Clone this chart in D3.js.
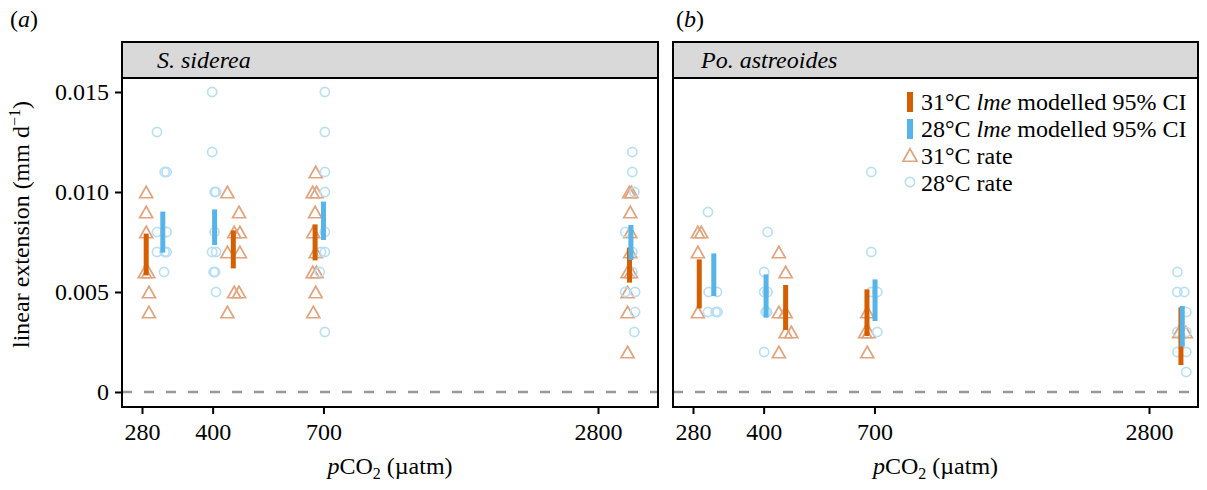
<!DOCTYPE html>
<html>
<head>
<meta charset="utf-8">
<script src="https://cdn.jsdelivr.net/npm/d3@7"></script>
<style>
  body { margin: 0; background: #fff; }
  svg { display: block; font-family: "Liberation Serif", "Times New Roman", serif; }
</style>
</head>
<body>
<div id="chart"></div>
<script>
const width = 1207,
    height = 490;

// pCO2 tick labels and y ticks
const pco2Ticks = [280, 400, 700, 2800];
const yTicks = [0, 0.005, 0.010, 0.015];

// (a) S. siderea : [measured pCO2, rate]
const sidereaTri31 = [
  [286, 0.010], [286, 0.009], [286, 0.008], [284, 0.006], [289, 0.006], [290, 0.005], [290, 0.004],
  [431, 0.010], [457, 0.009], [446, 0.008], [459, 0.008], [431, 0.007], [459, 0.007], [446, 0.005], [457, 0.005], [431, 0.004],
  [673, 0.011], [663, 0.010], [676, 0.010], [671, 0.009], [665, 0.008], [673, 0.007], [663, 0.006], [676, 0.006], [673, 0.005], [665, 0.004],
  [3280, 0.010], [3315, 0.010], [3296, 0.009], [3296, 0.008], [3296, 0.007], [3251, 0.006], [3308, 0.006], [3251, 0.005], [3251, 0.004], [3251, 0.002]
];
const sidereaCirc28 = [
  [302, 0.013], [314, 0.011], [317, 0.011], [302, 0.008], [317, 0.008], [302, 0.007], [314, 0.007], [317, 0.007], [313, 0.006],
  [399, 0.015], [399, 0.012], [404, 0.010], [407, 0.010], [404, 0.008], [399, 0.007], [407, 0.007], [402, 0.006], [405, 0.006], [407, 0.005],
  [705, 0.015], [705, 0.013], [705, 0.011], [705, 0.010], [705, 0.008], [691, 0.007], [705, 0.007], [687, 0.006], [705, 0.003],
  [3330, 0.012], [3330, 0.011], [3365, 0.010], [3213, 0.008], [3330, 0.007], [3330, 0.006], [3213, 0.005], [3376, 0.005], [3376, 0.004], [3365, 0.003]
];
// [pCO2, lower, upper]
const sidereaCI31 = [[286, 0.00583, 0.00792], [444, 0.00618, 0.00808], [671, 0.00658, 0.00838], [3283, 0.00547, 0.00722]];
const sidereaCI28 = [[311, 0.00697, 0.00902], [404, 0.00735, 0.00913], [700, 0.00760, 0.00952], [3306, 0.00660, 0.00835]];

// (b) Po. astreoides
const astreoTri31 = [
  [287, 0.008], [292, 0.008], [287, 0.007], [287, 0.004],
  [432, 0.007], [447, 0.006], [432, 0.004], [447, 0.004], [447, 0.003], [460, 0.003], [432, 0.002],
  [675, 0.004], [668, 0.003], [680, 0.003], [675, 0.002],
  [3260, 0.003], [3370, 0.003]
];
const astreoCirc28 = [
  [302, 0.009], [303, 0.005], [316, 0.005], [302, 0.004], [314, 0.004], [317, 0.004],
  [408, 0.008], [401, 0.006], [401, 0.005], [408, 0.005], [404, 0.004], [407, 0.004], [401, 0.002],
  [689, 0.011], [689, 0.007], [689, 0.005], [710, 0.005], [710, 0.003],
  [3231, 0.006], [3231, 0.005], [3346, 0.005], [3380, 0.004], [3231, 0.003], [3380, 0.003], [3231, 0.002], [3380, 0.002], [3380, 0.001]
];
const astreoCI31 = [[289, 0.00418, 0.00663], [447, 0.00310, 0.00535], [674, 0.00280, 0.00513], [3290, 0.00135, 0.00423]];
const astreoCI28 = [[311, 0.00480, 0.00693], [405, 0.00372, 0.00588], [702, 0.00355, 0.00563], [3312, 0.00227, 0.00430]];

const legendLabels = ['31°C', '28°C'];

const orange = '#D55E00', blue = '#56B4E9';
const triColor = '#E0A47F', circColor = '#B8DFF2';
const fs = 24;

const panels = [
  { tag: 'a', name: 'S. siderea', left: 122, right: 658, tri: sidereaTri31, circ: sidereaCirc28, ci31: sidereaCI31, ci28: sidereaCI28, yAxis: true },
  { tag: 'b', name: 'Po. astreoides', left: 673, right: 1198, tri: astreoTri31, circ: astreoCirc28, ci31: astreoCI31, ci28: astreoCI28, yAxis: false }
];

const stripTop = 42, plotTop = 78, plotBottom = 407;

const svg = d3.select('#chart')
    .append('svg')
    .attr('width', width)
    .attr('height', height);

// y比例尺
const y = d3.scaleLinear()
    .domain([0, 0.015])
    .range([392, 92]);

// triangle path, bbox centred
function triPath(w, h) {
  return 'M0,' + (-h / 2) + 'L' + (w / 2) + ',' + (h / 2) + 'L' + (-w / 2) + ',' + (h / 2) + 'Z';
}

panels.forEach(function(p) {
  const g = svg.append('g');

  // log x scale, ticks spaced the same in both panels
  const x = d3.scaleLog()
      .domain([280, 2800])
      .range([p.left + 20, p.left + 476]);

  // strip
  g.append('rect')
      .attr('x', p.left).attr('y', stripTop)
      .attr('width', p.right - p.left).attr('height', plotTop - stripTop)
      .attr('fill', '#D9D9D9')
      .attr('stroke', '#000').attr('stroke-width', 2);
  g.append('text')
      .attr('x', p.left + (p.tag === 'a' ? 35 : 28))
      .attr('y', plotTop - 10)
      .attr('font-size', fs)
      .attr('font-style', 'italic')
      .text(p.name);

  // panel label
  const lab = g.append('text')
      .attr('x', p.tag === 'a' ? 10 : p.left + 3)
      .attr('y', 27)
      .attr('font-size', fs);
  lab.append('tspan').text('(');
  lab.append('tspan').attr('font-style', 'italic').text(p.tag);
  lab.append('tspan').text(')');

  // zero line
  g.append('line')
      .attr('x1', p.left).attr('x2', p.right)
      .attr('y1', y(0)).attr('y2', y(0))
      .attr('stroke', '#999').attr('stroke-width', 2.5)
      .attr('stroke-dasharray', '10,12');

  // points
  g.append('g').selectAll('path')
      .data(p.tri)
      .enter()
      .append('path')
      .attr('d', triPath(13, 11.5))
      .attr('transform', function(d) { return 'translate(' + x(d[0]) + ',' + y(d[1]) + ')'; })
      .attr('fill', 'none')
      .attr('stroke', triColor)
      .attr('stroke-width', 1.7);

  g.append('g').selectAll('circle')
      .data(p.circ)
      .enter()
      .append('circle')
      .attr('cx', function(d) { return x(d[0]); })
      .attr('cy', function(d) { return y(d[1]); })
      .attr('r', 4.6)
      .attr('fill', 'none')
      .attr('stroke', circColor)
      .attr('stroke-width', 1.7);

  // CI bars
  [[p.ci31, orange], [p.ci28, blue]].forEach(function(s) {
    g.append('g').selectAll('rect')
        .data(s[0])
        .enter()
        .append('rect')
        .attr('x', function(d) { return x(d[0]) - 2.5; })
        .attr('y', function(d) { return y(d[2]); })
        .attr('width', 5)
        .attr('height', function(d) { return y(d[1]) - y(d[2]); })
        .attr('fill', s[1]);
  });

  // frame
  g.append('rect')
      .attr('x', p.left).attr('y', plotTop)
      .attr('width', p.right - p.left).attr('height', plotBottom - plotTop)
      .attr('fill', 'none')
      .attr('stroke', '#000').attr('stroke-width', 2);

  // x axis
  const xAxis = g.append('g')
      .attr('transform', 'translate(0,' + plotBottom + ')')
      .call(d3.axisBottom(x).tickValues(pco2Ticks).tickFormat(d3.format('d')).tickSize(7).tickPadding(9));
  xAxis.select('.domain').remove();
  xAxis.selectAll('line').attr('stroke', '#000').attr('stroke-width', 2);
  xAxis.selectAll('text').attr('font-size', fs).attr('font-family', 'Liberation Serif, serif').attr('fill', '#000');

  // x title
  const xt = g.append('text')
      .attr('x', (p.left + p.right) / 2)
      .attr('y', 474)
      .attr('text-anchor', 'middle')
      .attr('font-size', fs);
  xt.append('tspan').attr('font-style', 'italic').text('p');
  xt.append('tspan').text('CO');
  xt.append('tspan').attr('font-size', 16).attr('dy', 5).text('2');
  xt.append('tspan').attr('dy', -5).text(' (µatm)');

  if (p.yAxis) {
    const yAxis = g.append('g')
        .attr('transform', 'translate(' + p.left + ',0)')
        .call(d3.axisLeft(y).tickValues(yTicks)
          .tickFormat(function(d) { return d === 0 ? '0' : d3.format('.3f')(d); })
          .tickSize(7).tickPadding(6));
    yAxis.select('.domain').remove();
    yAxis.selectAll('line').attr('stroke', '#000').attr('stroke-width', 2);
    yAxis.selectAll('text').attr('font-size', fs).attr('font-family', 'Liberation Serif, serif').attr('fill', '#000');

    // y title, centred over strip + panel
    const yt = g.append('text')
        .attr('transform', 'translate(29,' + ((stripTop + plotBottom) / 2) + ') rotate(-90)')
        .attr('text-anchor', 'middle')
        .attr('font-size', fs);
    yt.append('tspan').text('linear extension (mm d');
    yt.append('tspan').attr('font-size', 16).attr('dy', -9).text('−1');
    yt.append('tspan').attr('dy', 9).text(')');
  }

  // legend in panel b
  if (p.tag === 'b') {
    const lg = g.append('g');
    const rows = [
      { kind: 'bar', color: orange, label: legendLabels[0], ci: true },
      { kind: 'bar', color: blue, label: legendLabels[1], ci: true },
      { kind: 'tri', color: triColor, label: legendLabels[0], ci: false },
      { kind: 'circ', color: circColor, label: legendLabels[1], ci: false }
    ];
    rows.forEach(function(r, i) {
      const cy = 102 + i * 27;
      if (r.kind === 'bar') {
        lg.append('rect').attr('x', 907).attr('y', cy - 10).attr('width', 6).attr('height', 20).attr('fill', r.color);
      } else if (r.kind === 'tri') {
        lg.append('path').attr('d', triPath(14, 12.5)).attr('transform', 'translate(910,' + (cy - 1) + ')')
          .attr('fill', 'none').attr('stroke', r.color).attr('stroke-width', 1.7);
      } else {
        lg.append('circle').attr('cx', 910).attr('cy', cy - 1).attr('r', 4.7)
          .attr('fill', 'none').attr('stroke', r.color).attr('stroke-width', 1.7);
      }
      const t = lg.append('text').attr('x', 921).attr('y', cy + 8).attr('font-size', fs);
      t.append('tspan').text(r.label + ' ');
      if (r.ci) {
        t.append('tspan').attr('font-style', 'italic').text('lme');
        t.append('tspan').text(' modelled 95% CI');
      } else {
        t.append('tspan').text('rate');
      }
    });
  }
});
</script>
</body>
</html>
